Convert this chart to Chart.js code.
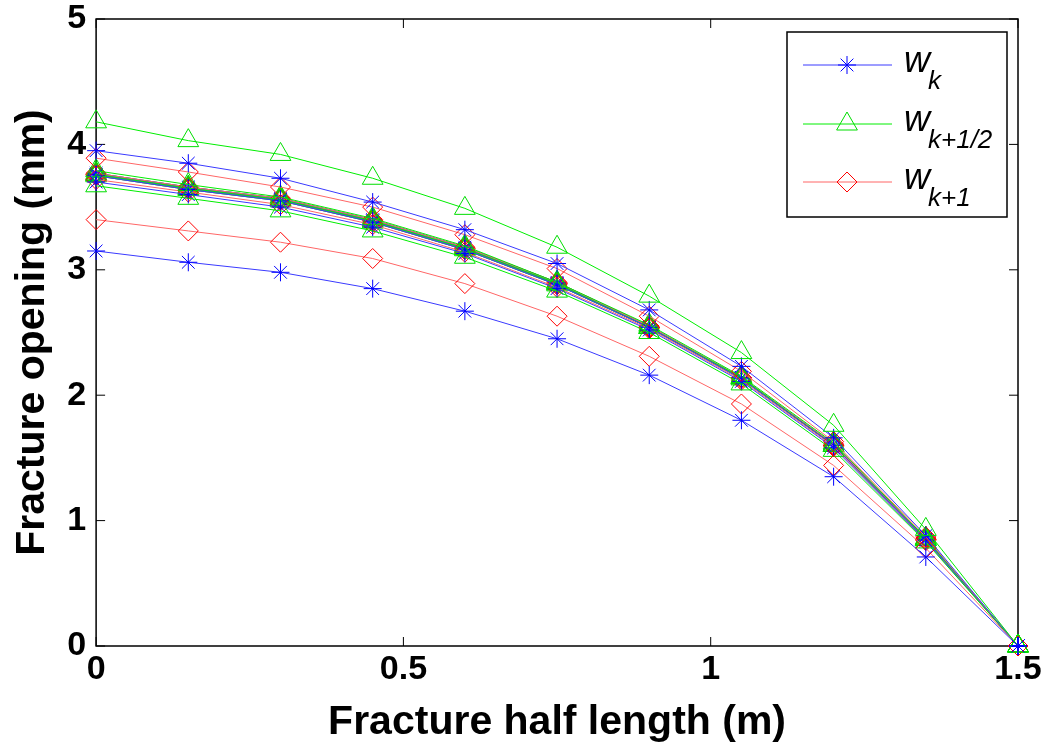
<!DOCTYPE html>
<html>
<head>
<meta charset="utf-8">
<title>Fracture opening</title>
<script src="https://cdn.jsdelivr.net/npm/chart.js@4.4.1/dist/chart.umd.min.js"></script>
<style>
  html, body { margin: 0; padding: 0; background: #fff; }
  #wrap { width: 1047px; height: 747px; }
</style>
</head>
<body>
<div id="wrap"><canvas id="chart" width="1047" height="747"></canvas></div>
<script>
// x positions along the fracture (m)
const halfLength = [0, 0.15, 0.3, 0.45, 0.6, 0.75, 0.9, 1.05, 1.2, 1.35, 1.5];

// iteration 1
const wk1 = [3.15, 3.06, 2.98, 2.85, 2.67, 2.45, 2.16, 1.80, 1.35, 0.71, 0];
const wHalf1 = [4.18, 4.03, 3.92, 3.73, 3.49, 3.18, 2.79, 2.34, 1.76, 0.93, 0];
const wNext1 = [3.40, 3.31, 3.22, 3.09, 2.89, 2.63, 2.31, 1.93, 1.44, 0.78, 0];
// iteration 2
const wk2 = [3.95, 3.85, 3.73, 3.54, 3.32, 3.05, 2.68, 2.23, 1.66, 0.88, 0];
const wHalf2 = [3.67, 3.57, 3.47, 3.31, 3.10, 2.83, 2.50, 2.09, 1.56, 0.83, 0];
const wNext2 = [3.89, 3.78, 3.66, 3.50, 3.28, 3.01, 2.63, 2.19, 1.63, 0.87, 0];
// iteration 3
const wk3 = [3.70, 3.60, 3.50, 3.34, 3.13, 2.85, 2.52, 2.11, 1.58, 0.84, 0];
const wHalf3 = [3.79, 3.68, 3.58, 3.41, 3.19, 2.90, 2.56, 2.15, 1.62, 0.86, 0];
const wNext3 = [3.72, 3.62, 3.52, 3.36, 3.14, 2.86, 2.53, 2.12, 1.59, 0.84, 0];
// converged iterations
const wConvA = [3.75, 3.64, 3.55, 3.38, 3.16, 2.88, 2.54, 2.13, 1.60, 0.85, 0];
const wConvB = [3.76, 3.65, 3.56, 3.39, 3.17, 2.89, 2.54, 2.14, 1.60, 0.85, 0];
const wConvC = [3.77, 3.66, 3.57, 3.40, 3.18, 2.90, 2.55, 2.14, 1.61, 0.86, 0];

const xTicks = [0, 0.5, 1, 1.5];
const yTicks = [0, 1, 2, 3, 4, 5];

const iterations = [
  [wk1, wHalf1, wNext1],
  [wk2, wHalf2, wNext2],
  [wk3, wHalf3, wNext3],
  [wConvA, wConvB, wConvC],
  [wConvB, wConvA, wConvB],
  [wConvC, wConvB, wConvA],
  [wConvB, wConvC, wConvB],
];

const STYLES = [
  { line: "#3a3aff", mark: "#0000ff", point: "star", radius: 9 },
  { line: "#00ee00", mark: "#00dd00", point: "triangle", radius: 12 },
  { line: "#ff6666", mark: "#ff0000", point: "rectRot", radius: 10 },
];

const datasets = [];
iterations.forEach((it) => {
  it.forEach((vals, k) => {
    const s = STYLES[k];
    datasets.push({
      data: vals.map((v, i) => ({ x: halfLength[i], y: v })),
      borderColor: s.line,
      borderWidth: 1,
      pointStyle: s.point,
      pointRadius: s.radius,
      pointBorderColor: s.mark,
      pointBackgroundColor: "rgba(0,0,0,0)",
      pointBorderWidth: 1,
      tension: 0,
      clip: false,
    });
  });
});

// box + inward ticks, like matlab
const frame = {
  id: "frame",
  beforeDatasetsDraw(chart) {
    const { ctx, chartArea: a, scales } = chart;
    const len = 9;
    ctx.save();
    ctx.strokeStyle = "#000";
    ctx.lineWidth = 1.5;
    ctx.strokeRect(a.left, a.top, a.right - a.left, a.bottom - a.top);
    ctx.lineWidth = 1;
    ctx.beginPath();
    xTicks.forEach((t) => {
      const px = scales.x.getPixelForValue(t);
      ctx.moveTo(px, a.bottom); ctx.lineTo(px, a.bottom - len);
      ctx.moveTo(px, a.top); ctx.lineTo(px, a.top + len);
    });
    yTicks.forEach((t) => {
      const py = scales.y.getPixelForValue(t);
      ctx.moveTo(a.left, py); ctx.lineTo(a.left + len, py);
      ctx.moveTo(a.right, py); ctx.lineTo(a.right - len, py);
    });
    ctx.stroke();
    ctx.restore();
  },
};

function marker(ctx, s, x, y) {
  ctx.save();
  ctx.strokeStyle = s.mark;
  ctx.fillStyle = "rgba(0,0,0,0)";
  ctx.lineWidth = 1;
  if (Chart.helpers && Chart.helpers.drawPoint) {
    Chart.helpers.drawPoint(ctx, { pointStyle: s.point, radius: s.radius, rotation: 0, borderWidth: 1 }, x, y);
  }
  ctx.restore();
}

const legendBox = {
  id: "legendBox",
  afterDraw(chart) {
    const ctx = chart.ctx;
    const subs = ["k", "k+1/2", "k+1"];
    const rows = [65, 124, 182];
    ctx.save();
    ctx.fillStyle = "#fff";
    ctx.fillRect(787, 32, 220, 185);
    ctx.strokeStyle = "#000";
    ctx.lineWidth = 1.5;
    ctx.strokeRect(787, 32, 220, 185);
    rows.forEach((ry, k) => {
      const s = STYLES[k];
      ctx.strokeStyle = s.line;
      ctx.lineWidth = 1;
      ctx.beginPath();
      ctx.moveTo(803, ry);
      ctx.lineTo(892, ry);
      ctx.stroke();
      marker(ctx, s, 847, ry);
      ctx.fillStyle = "#000";
      ctx.textBaseline = "alphabetic";
      ctx.textAlign = "left";
      ctx.font = "italic 36px 'Liberation Sans', Arial, sans-serif";
      ctx.fillText("w", 904, ry + 7);
      ctx.font = "italic 26px 'Liberation Sans', Arial, sans-serif";
      ctx.fillText(subs[k], 928, ry + 24);
    });
    ctx.restore();
  },
};

const FONT = "'Liberation Sans', Arial, Helvetica, sans-serif";

new Chart(document.getElementById("chart"), {
  type: "line",
  data: { datasets },
  options: {
    responsive: false,
    animation: false,
    layout: { padding: { left: 8, right: 29, top: 19, bottom: 0 } },
    plugins: { legend: { display: false }, tooltip: { enabled: false } },
    scales: {
      x: {
        type: "linear",
        min: 0,
        max: 1.5,
        afterBuildTicks: (sc) => { sc.ticks = xTicks.map((v) => ({ value: v })); },
        afterFit: (sc) => {
          sc.height = 101;
          sc.paddingLeft = 0;
          sc.paddingRight = 0;
        },
        grid: { display: false, drawTicks: false },
        border: { display: false },
        ticks: {
          color: "#000",
          padding: 3,
          callback: (v) => String(v),
          font: { family: FONT, size: 34, weight: "bold" },
        },
        title: {
          display: true,
          text: "Fracture half length (m)",
          color: "#000",
          padding: 0,
          font: { family: FONT, size: 41, weight: "bold" },
        },
      },
      y: {
        min: 0,
        max: 5,
        afterBuildTicks: (sc) => { sc.ticks = yTicks.map((v) => ({ value: v })); },
        afterFit: (sc) => {
          sc.paddingTop = 0;
          sc.paddingBottom = 0;
        },
        grid: { display: false, drawTicks: false },
        border: { display: false },
        ticks: {
          color: "#000",
          padding: 10,
          callback: (v) => String(v),
          font: { family: FONT, size: 34, weight: "bold" },
        },
        title: {
          display: true,
          text: "Fracture opening (mm)",
          color: "#000",
          padding: 0,
          font: { family: FONT, size: 41, weight: "bold" },
        },
      },
    },
  },
  plugins: [frame, legendBox],
});
</script>
</body>
</html>
